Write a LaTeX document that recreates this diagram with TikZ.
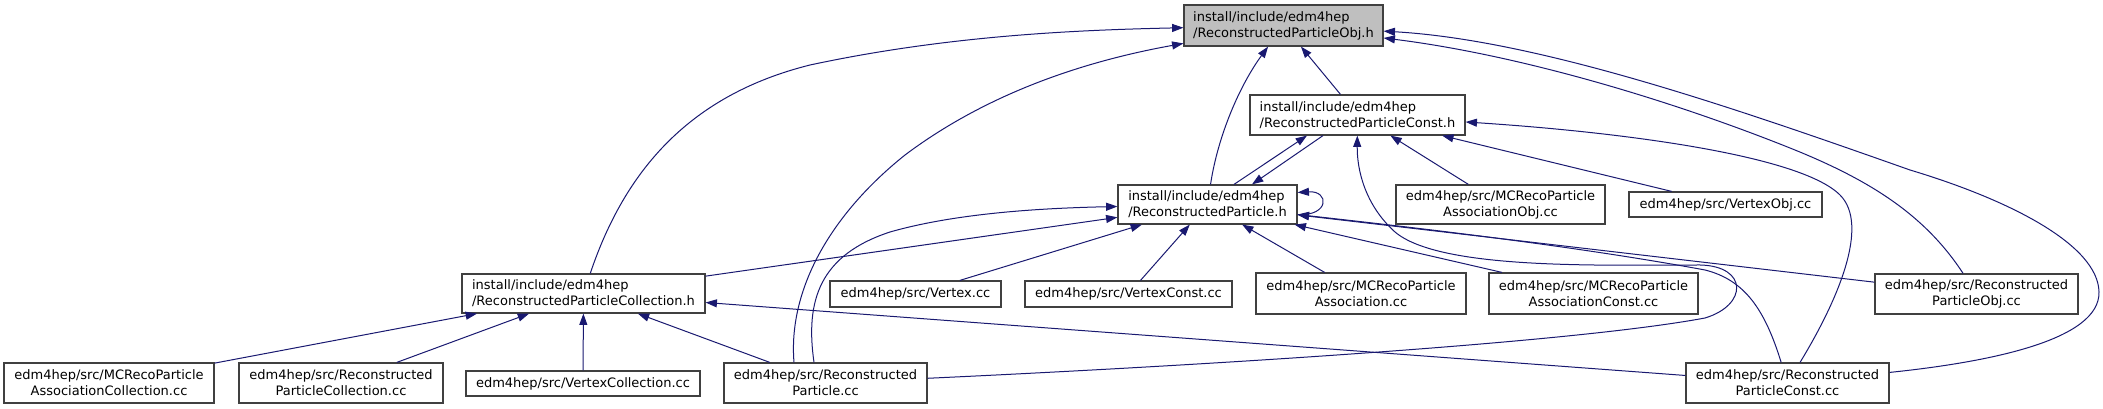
\documentclass[tikz,border=0pt]{standalone}
\usepackage{fontspec}
\setmainfont{DejaVu Sans}
\usetikzlibrary{arrows.meta,calc}
\definecolor{edgeblue}{HTML}{191970}

\begin{document}
\begin{tikzpicture}[x=0.75pt,y=-0.75pt]
    % Node and edge styles
    \tikzset{file node/.style={draw=black!75,line width=0.9pt,fill=white,inner sep=0pt,font=\fontsize{9.75}{12}\selectfont,align=center},
             header node/.style={file node,align=left},
             box size/.style 2 args={minimum width=#1*0.75pt,minimum height=#2*0.75pt},
             dep/.style={edgeblue,line width=0.75pt,-{Triangle[length=8.5pt,width=6pt]}}}
    \useasboundingbox (0,0) rectangle (2103,409);

    % --- Level 0: the header itself ---
    \node[header node, fill=black!25, box size={199}{41}] (obj) at (1283.5,25.5) {install/include/edm4hep\\/ReconstructedParticleObj.h};

    % --- Level 1 ---
    \node[header node, box size={215}{40}] (consth) at (1357.5,115) {install/include/edm4hep\\/ReconstructedParticleConst.h};

    % --- Level 2 ---
    \node[header node, box size={179}{39}] (parth) at (1207.5,204.5) {install/include/edm4hep\\/ReconstructedParticle.h};
    \node[file node, box size={209}{39}] (assocobj) at (1500.5,204.5) {edm4hep/src/MCRecoParticle\\AssociationObj.cc};
    \node[file node, box size={193}{25}] (vertexobj) at (1725.5,204.5) {edm4hep/src/VertexObj.cc};

    % --- Level 3 ---
    \node[header node, box size={243}{39}] (colh) at (583.5,293.5) {install/include/edm4hep\\/ReconstructedParticleCollection.h};
    \node[file node, box size={171}{26}] (vertex) at (915.5,294) {edm4hep/src/Vertex.cc};
    \node[file node, box size={207}{26}] (vertexconst) at (1128.5,294) {edm4hep/src/VertexConst.cc};
    \node[file node, box size={210}{41}] (assoc) at (1361,293.5) {edm4hep/src/MCRecoParticle\\Association.cc};
    \node[file node, box size={209}{41}] (assocconst) at (1593.5,293.5) {edm4hep/src/MCRecoParticle\\AssociationConst.cc};
    \node[file node, box size={203}{40}] (rpobj) at (1976.5,294) {edm4hep/src/Reconstructed\\ParticleObj.cc};

    % --- Level 4 ---
    \node[file node, box size={210}{40}] (assoccol) at (109,383) {edm4hep/src/MCRecoParticle\\AssociationCollection.cc};
    \node[file node, box size={204}{40}] (rpcol) at (341,383) {edm4hep/src/Reconstructed\\ParticleCollection.cc};
    \node[file node, box size={234}{25}] (vertexcol) at (583,383.5) {edm4hep/src/VertexCollection.cc};
    \node[file node, box size={203}{40}] (rpcc) at (825.5,383) {edm4hep/src/Reconstructed\\Particle.cc};
    \node[file node, box size={203}{40}] (rpconst) at (1787.5,383) {edm4hep/src/Reconstructed\\ParticleConst.cc};

    % --- Edges into the Obj header ---
    \draw[dep] (colh) .. controls (625,170) and (690,95) .. (810,65) .. controls (950,35) and (1080,30) .. (obj);
    \draw[dep] ($(rpcc.north)+(-31.5,0)$) .. controls (788,290) and (830,215) .. (905,155) .. controls (985,95) and (1080,62) .. (obj);
    \draw[dep] (parth) .. controls (1218,135) and (1240,85) .. (obj);
    \draw[dep] (consth) -- (obj);
    \draw[dep] (rpobj) .. controls (1925,215) and (1870,180) .. (1790,148) .. controls (1670,100) and (1520,55) .. (obj);
    \draw[dep] (rpconst) .. controls (1990,362) and (2100,340) .. (2099,292) .. controls (2098,245) and (2010,200) .. (1910,170) .. controls (1740,110) and (1540,40) .. (obj);

    % --- Between the two headers, and the self loop ---
    \draw[dep] ($(parth.north)+(26.5,0)$) -- ($(consth.south)+(-50.5,0)$);
    \draw[dep] ($(consth.south)+(-34.5,0)$) -- ($(parth.north)+(44.5,0)$);
    \draw[dep] ($(parth.east)+(0,10)$) .. controls +(32,2) and +(32,-2) .. ($(parth.east)+(0,-12)$);

    % --- Edges into the Const header ---
    \draw[dep] (assocobj) -- (consth);
    \draw[dep] (vertexobj) -- (consth);
    \draw[dep] (rpconst) .. controls (1838,300) and (1870,225) .. (1840,195) .. controls (1800,155) and (1620,132) .. (consth);
    \draw[dep] (rpcc) .. controls (1150,368) and (1560,345) .. (1705,318) .. controls (1748,305) and (1748,266) .. (1700,265) .. controls (1600,265) and (1440,270) .. (1395,232) .. controls (1365,205) and (1357,170) .. (consth);

    % --- Edges into ReconstructedParticle.h ---
    \draw[dep] (colh) -- (parth);
    \draw[dep] ($(rpcc.north)+(-11.5,0)$) .. controls (805,300) and (820,255) .. (890,232) .. controls (960,212) and (1050,208) .. (parth);
    \draw[dep] (vertex) -- (parth);
    \draw[dep] (vertexconst) -- (parth);
    \draw[dep] (assoc) -- (parth);
    \draw[dep] (assocconst) -- (parth);
    \draw[dep] (rpobj) -- (parth);
    \draw[dep] (rpconst) .. controls (1765,310) and (1745,280) .. (1705,270) .. controls (1570,245) and (1400,226) .. (parth);

    % --- Edges into the Collection header ---
    \draw[dep] (assoccol) -- (colh);
    \draw[dep] (rpcol) -- (colh);
    \draw[dep] (vertexcol) -- (colh);
    \draw[dep] (rpcc) -- (colh);
    \draw[dep] (rpconst) -- (colh);

\end{tikzpicture}
\end{document}
